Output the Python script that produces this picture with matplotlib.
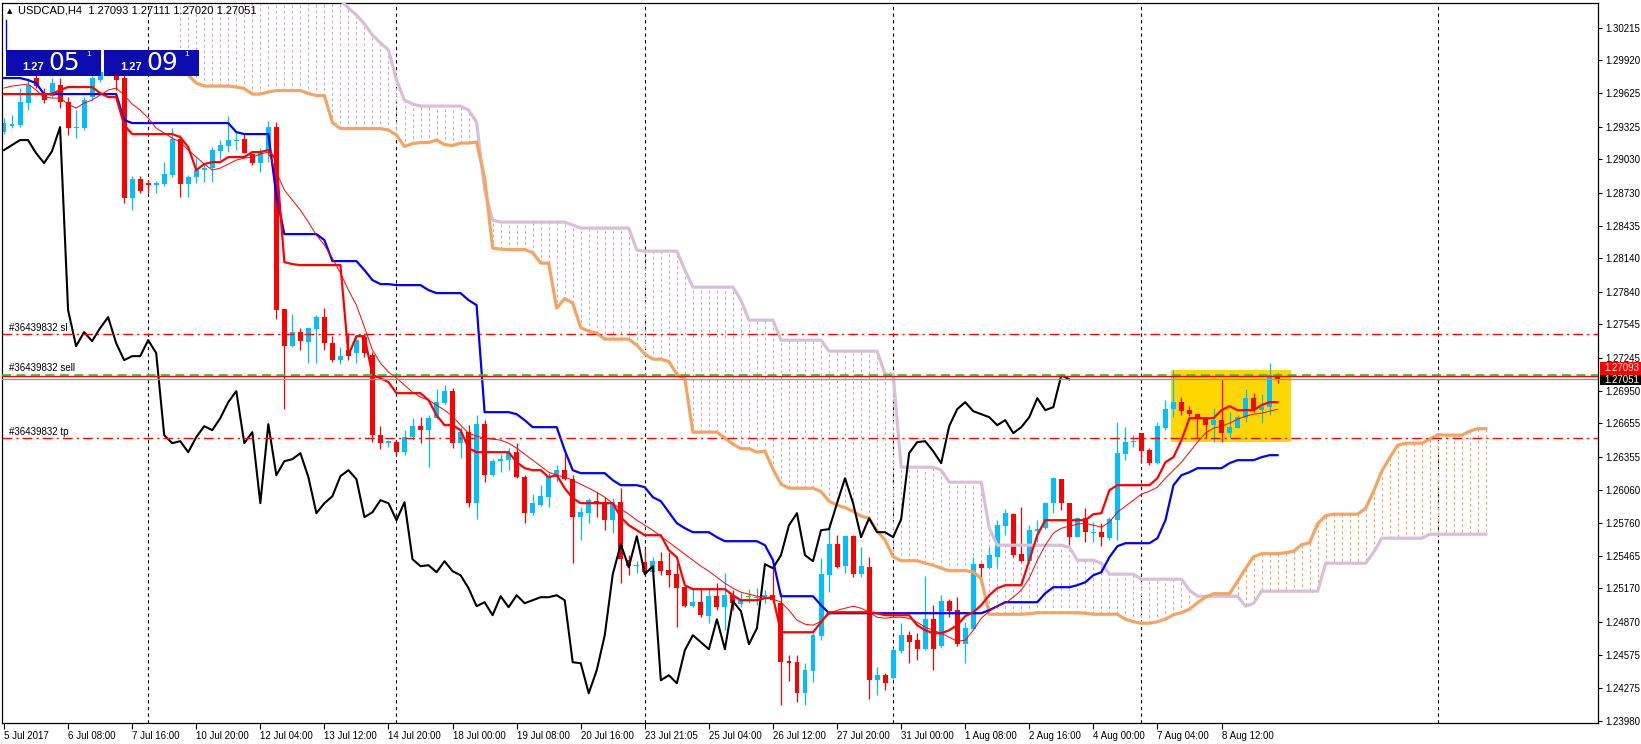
import matplotlib
matplotlib.use("Agg")
import matplotlib.pyplot as plt
import numpy as np
from matplotlib.patches import Rectangle
from matplotlib.lines import Line2D

plt.rcParams['font.family'] = ['Liberation Sans', 'DejaVu Sans']

W, H = 1641, 744

# ---- USDCAD H4 candles ----
opens = [
    1.29276, 1.29330, 1.29339, 1.29537, 1.29762, 1.29627, 1.29600, 1.29699, 1.29546, 1.29312,
    1.29312, 1.29591, 1.29744, 1.29816, 1.29906, 1.29762, 1.28682, 1.28853, 1.28817, 1.28799,
    1.28808, 1.28889, 1.29213, 1.28808, 1.28871, 1.28934, 1.28952, 1.29105, 1.29150, 1.29195,
    1.29213, 1.29078, 1.28997, 1.29114, 1.29321, 1.27683, 1.27350, 1.27476, 1.27386, 1.27503,
    1.27611, 1.27377, 1.27224, 1.27314, 1.27287, 1.27431, 1.27269, 1.26549, 1.26477, 1.26486,
    1.26396, 1.26531, 1.26630, 1.26594, 1.26702, 1.26837, 1.26945, 1.26477, 1.26576, 1.25937,
    1.26648, 1.26189, 1.26315, 1.26324, 1.26396, 1.26171, 1.25847, 1.25919, 1.25991, 1.26171,
    1.26234, 1.26153, 1.25811, 1.25847, 1.25955, 1.25946, 1.25784, 1.25946, 1.25424, 1.25370,
    1.25406, 1.25316, 1.25415, 1.25334, 1.25298, 1.25181, 1.25010, 1.25046, 1.24920, 1.25100,
    1.25001, 1.25109, 1.25028, 1.25091, 1.25082, 1.25091, 1.25109, 1.25037, 1.24515, 1.24506,
    1.24227, 1.24425, 1.24740, 1.25289, 1.25568, 1.25370, 1.25640, 1.25298, 1.25361, 1.24344,
    1.24389, 1.24362, 1.24605, 1.24749, 1.24704, 1.24623, 1.24893, 1.24650, 1.25055, 1.24974,
    1.24668, 1.24803, 1.25388, 1.25352, 1.25451, 1.25730, 1.25838, 1.25478, 1.25415, 1.25685,
    1.25712, 1.25937, 1.26153, 1.25937, 1.25631, 1.25802, 1.25667, 1.25676, 1.25622, 1.25784,
    1.26378, 1.26486, 1.26567, 1.26414, 1.26297, 1.26612, 1.26783, 1.26846, 1.26774, 1.26738,
    1.26702, 1.26639, 1.26684, 1.26567, 1.26612, 1.26702, 1.26882, 1.26774, 1.26801, 1.27093]
highs = [
    1.29402, 1.29429, 1.29672, 1.29762, 1.29816, 1.29672, 1.29762, 1.29762, 1.29591, 1.29474,
    1.29591, 1.29780, 1.29879, 1.29969, 1.29969, 1.29816, 1.28880, 1.28880, 1.28844, 1.28835,
    1.29006, 1.29312, 1.29249, 1.28889, 1.29042, 1.28997, 1.29141, 1.29204, 1.29420, 1.29285,
    1.29258, 1.29078, 1.29132, 1.29375, 1.29366, 1.27683, 1.27638, 1.27512, 1.27521, 1.27629,
    1.27692, 1.27440, 1.27341, 1.27467, 1.27449, 1.27467, 1.27296, 1.26630, 1.26504, 1.26504,
    1.26594, 1.26702, 1.26711, 1.26729, 1.26963, 1.26999, 1.26972, 1.26621, 1.26639, 1.26729,
    1.26684, 1.26333, 1.26378, 1.26432, 1.26477, 1.26189, 1.26018, 1.26099, 1.26207, 1.26279,
    1.26387, 1.26189, 1.25901, 1.25982, 1.26036, 1.25991, 1.25982, 1.26072, 1.25469, 1.25415,
    1.25532, 1.25451, 1.25496, 1.25496, 1.25397, 1.25199, 1.25172, 1.25172, 1.25172, 1.25217,
    1.25307, 1.25154, 1.25127, 1.25163, 1.25172, 1.25154, 1.25406, 1.25127, 1.24569, 1.24569,
    1.24497, 1.24767, 1.25442, 1.25757, 1.25649, 1.25649, 1.25649, 1.25541, 1.25451, 1.24461,
    1.24407, 1.24632, 1.24857, 1.24785, 1.24767, 1.25280, 1.25019, 1.25109, 1.25073, 1.25091,
    1.24866, 1.25451, 1.25397, 1.25541, 1.25784, 1.25883, 1.25847, 1.25901, 1.25739, 1.25784,
    1.25946, 1.26171, 1.26153, 1.25937, 1.25811, 1.25892, 1.25766, 1.25757, 1.25811, 1.26666,
    1.26621, 1.26549, 1.26567, 1.26432, 1.26666, 1.26864, 1.27134, 1.26891, 1.26810, 1.26747,
    1.26711, 1.26792, 1.27053, 1.26756, 1.26729, 1.26963, 1.26927, 1.26918, 1.27197, 1.27111]
lows = [
    1.29258, 1.29312, 1.29321, 1.29474, 1.29672, 1.29537, 1.29591, 1.29492, 1.29249, 1.29222,
    1.29294, 1.29564, 1.29726, 1.29780, 1.29654, 1.28637, 1.28574, 1.28727, 1.28727, 1.28727,
    1.28790, 1.28871, 1.28691, 1.28691, 1.28817, 1.28826, 1.28826, 1.29024, 1.29096, 1.29114,
    1.29087, 1.28979, 1.28916, 1.29006, 1.27593, 1.26783, 1.27341, 1.27314, 1.27197, 1.27197,
    1.27314, 1.27206, 1.27188, 1.27224, 1.27197, 1.27251, 1.26486, 1.26423, 1.26441, 1.26369,
    1.26369, 1.26504, 1.26477, 1.26261, 1.26693, 1.26828, 1.26432, 1.26342, 1.25901, 1.25793,
    1.26126, 1.26180, 1.26216, 1.26234, 1.26162, 1.25757, 1.25829, 1.25910, 1.25901, 1.26126,
    1.26144, 1.25397, 1.25604, 1.25757, 1.25811, 1.25694, 1.25667, 1.25217, 1.25289, 1.25307,
    1.25307, 1.25307, 1.25289, 1.25181, 1.24821, 1.25001, 1.25001, 1.24911, 1.24857, 1.24974,
    1.24794, 1.24974, 1.25001, 1.25037, 1.25019, 1.25037, 1.25046, 1.24119, 1.24335, 1.24146,
    1.24119, 1.24326, 1.24704, 1.25136, 1.25352, 1.25307, 1.25271, 1.25271, 1.24173, 1.24209,
    1.24254, 1.24353, 1.24587, 1.24497, 1.24524, 1.24614, 1.24434, 1.24632, 1.24911, 1.24650,
    1.24497, 1.24794, 1.25199, 1.25352, 1.25361, 1.25649, 1.25451, 1.25406, 1.25406, 1.25586,
    1.25703, 1.25847, 1.25874, 1.25559, 1.25631, 1.25586, 1.25586, 1.25550, 1.25604, 1.25604,
    1.26324, 1.26441, 1.26306, 1.26279, 1.26288, 1.26594, 1.26711, 1.26729, 1.26720, 1.26522,
    1.26522, 1.26486, 1.26486, 1.26522, 1.26612, 1.26666, 1.26756, 1.26657, 1.26729, 1.27020]
closes = [
    1.29357, 1.29348, 1.29546, 1.29699, 1.29690, 1.29564, 1.29717, 1.29546, 1.29312, 1.29321,
    1.29564, 1.29762, 1.29816, 1.29906, 1.29744, 1.28682, 1.28853, 1.28745, 1.28799, 1.28817,
    1.28898, 1.29213, 1.28808, 1.28871, 1.28934, 1.28952, 1.29114, 1.29159, 1.29204, 1.29204,
    1.29087, 1.28997, 1.29105, 1.29321, 1.27674, 1.27350, 1.27476, 1.27395, 1.27512, 1.27611,
    1.27377, 1.27224, 1.27260, 1.27260, 1.27404, 1.27287, 1.26549, 1.26477, 1.26495, 1.26396,
    1.26531, 1.26630, 1.26594, 1.26702, 1.26846, 1.26945, 1.26477, 1.26576, 1.25937, 1.26648,
    1.26189, 1.26315, 1.26333, 1.26387, 1.26171, 1.25847, 1.25937, 1.26000, 1.26180, 1.26234,
    1.26153, 1.25811, 1.25856, 1.25964, 1.25937, 1.25784, 1.25946, 1.25433, 1.25370, 1.25379,
    1.25316, 1.25415, 1.25325, 1.25289, 1.25172, 1.25010, 1.25046, 1.24929, 1.25100, 1.25001,
    1.25109, 1.25037, 1.25064, 1.25091, 1.25091, 1.25109, 1.25064, 1.24506, 1.24497, 1.24227,
    1.24434, 1.24749, 1.25298, 1.25568, 1.25361, 1.25640, 1.25298, 1.25370, 1.24344, 1.24389,
    1.24317, 1.24614, 1.24749, 1.24686, 1.24623, 1.24893, 1.24623, 1.25055, 1.24965, 1.24668,
    1.24812, 1.25388, 1.25352, 1.25469, 1.25739, 1.25847, 1.25469, 1.25415, 1.25694, 1.25703,
    1.25937, 1.26162, 1.25937, 1.25631, 1.25802, 1.25676, 1.25676, 1.25631, 1.25793, 1.26387,
    1.26486, 1.26495, 1.26405, 1.26297, 1.26630, 1.26783, 1.26846, 1.26765, 1.26738, 1.26711,
    1.26639, 1.26684, 1.26567, 1.26621, 1.26711, 1.26882, 1.26774, 1.26801, 1.27089, 1.27051]

# ---- Ichimoku lines ----
tenkan = ([1.29618] * 7 + [1.29654] + [1.29681] * 4 + [1.29627] + [1.29591] * 2 + [1.29339]
          + [1.29258] * 6 + [1.29231, 1.29141, 1.28934, 1.28988] + [1.29006] * 2 + [1.29051] * 3
          + [1.29096] * 2 + [1.29114, 1.29024, 1.28106, 1.28088] + [1.28079] * 6 + [1.27269]
          + [1.27440] * 2 + [1.27089, 1.27062, 1.27026] + [1.26927] * 4 + [1.26864, 1.26729]
          + [1.26639] * 2 + [1.26594, 1.26432] + [1.26396] * 5 + [1.26306, 1.26252] + [1.26234] * 2
          + [1.26171, 1.26189, 1.26072, 1.25982] + [1.25937] * 5 + [1.25811, 1.25739, 1.25694]
          + [1.25649] * 3 + [1.25514, 1.25451, 1.25199] + [1.25163] * 5 + [1.25109] + [1.25064] * 3
          + [1.25082, 1.25091] + [1.24776] * 5 + [1.24866] + [1.24956] * 6 + [1.24947]
          + [1.24929] * 4 + [1.24839, 1.24794] + [1.24767] * 2
          + [1.24794, 1.24839, 1.24920, 1.24956, 1.25019, 1.25109, 1.25172] + [1.25199] * 3
          + [1.25424, 1.25649] + [1.25784] * 6 + [1.25838, 1.25847, 1.26054] + [1.26099] * 5
          + [1.26162, 1.26306, 1.26351, 1.26504] + [1.26702] * 4 + [1.26774, 1.26810]
          + [1.26774] * 3 + [1.26819] + [1.26846] * 2)
kijun = ([1.29762] * 3 + [1.29744, 1.29717] + [1.29618] * 10 + [1.29384] + [1.29357] * 13
         + [1.29276] + [1.29258] * 4 + [1.28709] + [1.28358] * 5 + [1.28304] + [1.28115] * 4
         + [1.28034, 1.27944] + [1.27908] * 2 + [1.27899] * 4 + [1.27854] + [1.27827] * 4
         + [1.27764, 1.27719] + [1.26756] * 4 + [1.26738, 1.26684] + [1.26621] * 4
         + [1.26414, 1.26234] + [1.26207] * 4 + [1.26144] + [1.26099] * 3
         + [1.26081, 1.25991, 1.25955, 1.25856, 1.25757, 1.25712] + [1.25676] * 3 + [1.25631]
         + [1.25595] * 5 + [1.25559, 1.25424] + [1.25100] * 5 + [1.25019] + [1.24947] * 20
         + [1.24974, 1.25010] + [1.25046] * 5 + [1.25127] + [1.25181] * 3
         + [1.25199, 1.25226, 1.25289, 1.25316, 1.25451, 1.25550] + [1.25577] * 4
         + [1.25622, 1.25784, 1.26099, 1.26189, 1.26216] + [1.26252] * 4 + [1.26297]
         + [1.26324] * 3 + [1.26351] + [1.26369] * 2)
shift = 26
span_start = 22
span_a_head = [1.29834, 1.29789, 1.29717, 1.29690]   # bars 22-25, under the trade panel
span_b = ([1.30824] * 20 + [1.30464, 1.30392, 1.30329, 1.30248, 1.30149, 1.30077, 1.30014,
                            1.29744, 1.29564, 1.29528]
          + [1.29510] * 6 + [1.29474, 1.29366, 1.28754, 1.28484] + [1.28466] * 9 + [1.28439]
          + [1.28412] * 7 + [1.28214] + [1.28205] * 5 + [1.28034] + [1.27881] * 6 + [1.27764]
          + [1.27584] * 4 + [1.27404] * 6 + [1.27305] * 7 + [1.27098] * 2 + [1.26261] * 5
          + [1.26234] + [1.26126] * 5 + [1.25712] + [1.25559] * 9 + [1.25541] + [1.25424] * 3
          + [1.25397] + [1.25298] * 4 + [1.25253] * 6 + [1.25154] + [1.25100] * 6
          + [1.25010, 1.25037] + [1.25145] * 8 + [1.25397] * 6 + [1.25496] + [1.25622] * 6
          + [1.25658] * 8)
ma = [
    1.29672, 1.29690, 1.29699, 1.29708, 1.29654, 1.29591, 1.29582, 1.29582, 1.29528, 1.29492,
    1.29537, 1.29564, 1.29609, 1.29654, 1.29672, 1.29609, 1.29528, 1.29474, 1.29402, 1.29312,
    1.29267, 1.29222, 1.29186, 1.29114, 1.29051, 1.28988, 1.28934, 1.28952, 1.28988, 1.29024,
    1.29042, 1.29051, 1.29078, 1.29096, 1.28916, 1.28754, 1.28664, 1.28574, 1.28466, 1.28349,
    1.28259, 1.28142, 1.28007, 1.27854, 1.27719, 1.27521, 1.27314, 1.27197, 1.27116, 1.27062,
    1.26999, 1.26936, 1.26891, 1.26864, 1.26819, 1.26774, 1.26720, 1.26639, 1.26567, 1.26540,
    1.26522, 1.26513, 1.26504, 1.26477, 1.26432, 1.26378, 1.26324, 1.26270, 1.26216, 1.26189,
    1.26171, 1.26144, 1.26108, 1.26072, 1.26036, 1.25991, 1.25937, 1.25883, 1.25838, 1.25784,
    1.25739, 1.25694, 1.25640, 1.25586, 1.25532, 1.25478, 1.25424, 1.25370, 1.25325, 1.25271,
    1.25217, 1.25172, 1.25136, 1.25118, 1.25100, 1.25091, 1.25073, 1.25046, 1.24974, 1.24884,
    1.24848, 1.24839, 1.24875, 1.24938, 1.24974, 1.24992, 1.25010, 1.24992, 1.24956, 1.24911,
    1.24902, 1.24911, 1.24911, 1.24902, 1.24866, 1.24821, 1.24794, 1.24767, 1.24731, 1.24695,
    1.24704, 1.24794, 1.24902, 1.24965, 1.25010, 1.25037, 1.25091, 1.25154, 1.25262, 1.25424,
    1.25559, 1.25667, 1.25712, 1.25730, 1.25748, 1.25757, 1.25739, 1.25721, 1.25766, 1.25856,
    1.25910, 1.25964, 1.26018, 1.26045, 1.26081, 1.26162, 1.26234, 1.26306, 1.26396, 1.26486,
    1.26567, 1.26612, 1.26630, 1.26657, 1.26693, 1.26720, 1.26738, 1.26747, 1.26765, 1.26783]

# ---- axes labels / objects ----
date_labels = ["5 Jul 2017", "6 Jul 08:00", "7 Jul 16:00", "10 Jul 20:00", "12 Jul 04:00",
               "13 Jul 12:00", "14 Jul 20:00", "18 Jul 00:00", "19 Jul 08:00", "20 Jul 16:00",
               "23 Jul 21:05", "25 Jul 04:00", "26 Jul 12:00", "27 Jul 20:00", "31 Jul 00:00",
               "1 Aug 08:00", "2 Aug 16:00", "4 Aug 00:00", "7 Aug 04:00", "8 Aug 12:00"]
price_ticks = [1.30215, 1.29920, 1.29625, 1.29325, 1.29030, 1.28730, 1.28435, 1.28140,
               1.27840, 1.27545, 1.27245, 1.26950, 1.26655, 1.26355, 1.26060, 1.25760,
               1.25465, 1.25170, 1.24870, 1.24575, 1.24275, 1.23980]
week_separators = [18, 49, 80, 111, 142, 179]
order_sl, order_open, order_tp = 1.27455, 1.27093, 1.26521
ask_price, bid_price = 1.27085, 1.27051
box_bars = (145.7, 160.7)
box_prices = (1.26487, 1.27135)

o = np.array(opens); hi = np.array(highs); lo = np.array(lows); c = np.array(closes)
x = np.arange(len(c))

fig = plt.figure(figsize=(W / 100, H / 100), dpi=100)
ax = fig.add_axes([2 / W, 1 - 722.7 / H, 1596 / W, 720 / H])
ax.set_xlim(-0.25, 199.0)
ax.set_ylim(1.23962, 1.30440)

# yellow box
ax.add_patch(Rectangle((box_bars[0], box_prices[0]), box_bars[1] - box_bars[0],
                       box_prices[1] - box_prices[0], facecolor='#ffd700', edgecolor='none', zorder=0.5))

# week separators
for s in week_separators:
    ax.axvline(s, color='black', lw=0.8, ls=(0, (3, 3)), zorder=1)

# cloud
span_a = np.array(span_a_head + list((np.array(tenkan) + np.array(kijun)) / 2))
sb = np.array(span_b)
xs = np.arange(span_start, span_start + len(sb))
hatch_cols = np.where(span_a >= sb, '#f4a460', '#c9a9c9')
ax.vlines(xs, span_a, sb, colors=hatch_cols, lw=0.8, linestyles=(0, (2.5, 2.5)), zorder=1.2)

# candles
bull = c > o
doji = c == o
cols = np.where(doji, '#33cc33', np.where(bull, '#00bfff', '#ff0000'))
ax.vlines(x, lo, hi, colors=cols, lw=0.9, zorder=2)
body_h = np.maximum(np.abs(c - o), 0.00009)
ax.bar(x, body_h, bottom=np.minimum(o, c), width=0.62, color=cols, linewidth=0, zorder=2.1)

# indicator lines
ax.plot(xs, sb, color='#d8bfd8', lw=2.3, zorder=3, solid_joinstyle='round')
ax.plot(xs, span_a, color='#f4a460', lw=2.3, zorder=3, solid_joinstyle='round')
ax.plot(x[shift:] - shift, c[shift:], color='black', lw=1.5, zorder=3.1)
ax.plot(x, kijun, color='#0000ff', lw=1.6, zorder=3.2)
ax.plot(x, tenkan, color='#ff0000', lw=1.6, zorder=3.3)
ax.plot(x, ma, color='#ff0000', lw=0.7, zorder=3.3)

# order / price lines
ax.axhline(order_sl, color='#ff0000', lw=1, ls=(0, (7, 3, 1.5, 3)), zorder=4)
ax.axhline(order_tp, color='#ff0000', lw=1, ls=(0, (7, 3, 1.5, 3)), zorder=4)
ax.axhline(order_open, color='#33cc33', lw=1.3, ls=(0, (5, 3)), zorder=4)
ax.axhline(ask_price, color='#ff0000', lw=1, zorder=4.1)
ax.axhline(bid_price, color='#999999', lw=1, zorder=4.1)
for p, t in [(order_sl, "#36439832 sl"), (order_open, "#36439832 sell"), (order_tp, "#36439832 tp")]:
    ax.text(0.6, p + 0.00014, t, fontsize=7, va='bottom', ha='left', zorder=5)

# axes styling
for sp in ax.spines.values():
    sp.set_linewidth(0.9)
ax.yaxis.tick_right()
ax.set_yticks(price_ticks)
ax.set_yticklabels([f"{v:.5f}" for v in price_ticks])
ax.tick_params(axis='y', direction='out', length=3, width=0.8, pad=2, labelsize=7)
ax.set_xticks(np.arange(0, 8 * len(date_labels), 8))
ax.set_xticklabels(date_labels)
ax.tick_params(axis='x', direction='out', length=4, width=0.8, pad=2, labelsize=7)
for lab in ax.get_xticklabels():
    lab.set_horizontalalignment('left')


def frect(x0, y0, x1, y1, **kw):
    fig.add_artist(Rectangle((x0 / W, 1 - y1 / H), (x1 - x0) / W, (y1 - y0) / H,
                             transform=fig.transFigure, **kw))


def ftext(xp, yp, s, **kw):
    fig.text(xp / W, 1 - yp / H, s, **kw)


# right axis price boxes
frect(1600, 362, 1641, 374.5, facecolor='#ff0000', edgecolor='none', zorder=5)
ftext(1604, 368, "1.27093", color='white', fontsize=7, va='center', zorder=6)
frect(1600, 374.5, 1641, 384.5, facecolor='black', edgecolor='none', zorder=7)
ftext(1604, 379.5, "1.27051", color='white', fontsize=7, va='center', zorder=8)

# header
ftext(7, 10.7, "\u25b2", fontsize=5, va='center', family=['DejaVu Sans'])
ftext(18, 10.7, "USDCAD,H4  1.27093 1.27111 1.27020 1.27051", fontsize=8, va='center')

# one-click trading panel
fig.add_artist(Line2D([6 / W, 6 / W], [1 - 20 / H, 1 - 50 / H], transform=fig.transFigure,
                      color='#0000ff', lw=1))
for x0, big in [(6, "05"), (104, "09")]:
    frect(x0, 50.5, x0 + 95, 76, facecolor='#0c0cb0', edgecolor='none', zorder=5)
    ftext(x0 + 16, 70.5, "1.27", color='white', fontsize=8, fontweight='bold',
          va='baseline', zorder=6)
    ftext(x0 + 42, 70.5, big, color='white', fontsize=18, va='baseline', zorder=6,
          family=['DejaVu Sans'])
    ftext(x0 + 80, 51, "1", color='white', fontsize=6, va='top', zorder=6)

fig.savefig("out.png", dpi=100)
